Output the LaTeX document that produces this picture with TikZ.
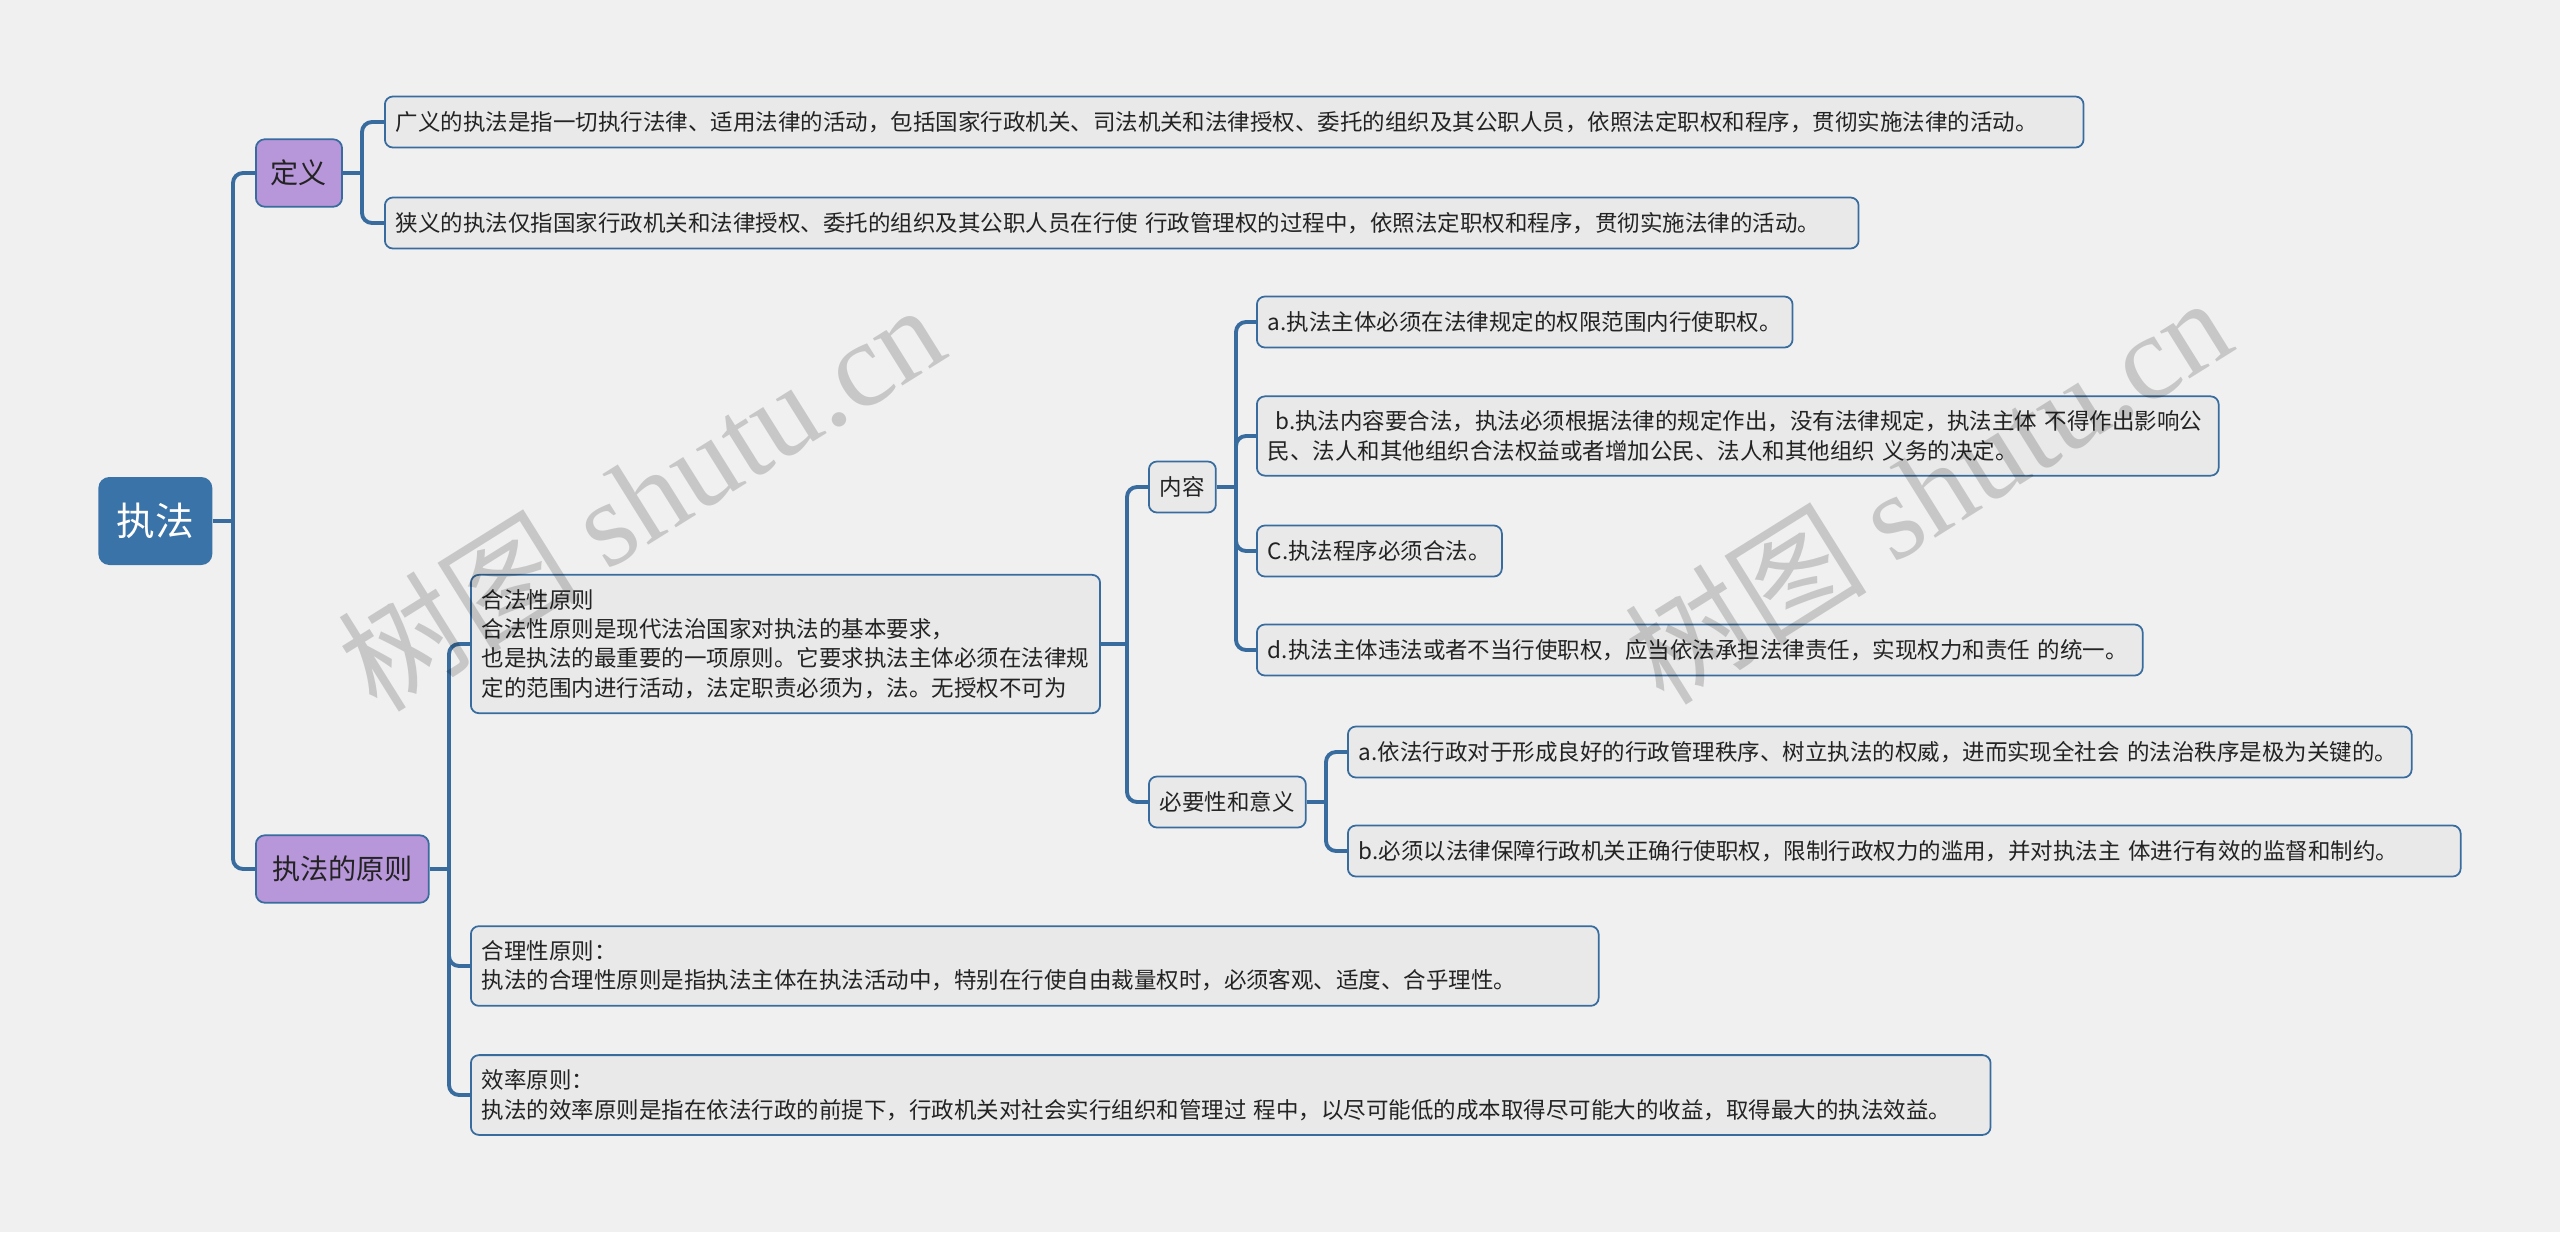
\documentclass[tikz,border=0pt]{standalone}
\usepackage{fontspec}
\setmainfont{Noto Sans CJK SC}
\newfontfamily\wmfont{Liberation Serif}
\usepackage{tikz}
\usetikzlibrary{positioning,calc}
\definecolor{linkblue}{RGB}{56,108,158}
\definecolor{rootblue}{RGB}{58,115,168}
\definecolor{topicpurple}{RGB}{184,150,218}
\definecolor{leafgray}{RGB}{233,233,233}
\definecolor{bggray}{RGB}{240,240,240}
\definecolor{textdark}{RGB}{35,35,35}

\tikzset{
  rootbox/.style={anchor=west, fill=rootblue, text=white, rounded corners=0.22cm,
    minimum width=2.28cm, minimum height=1.76cm, font=\fontsize{22}{26}\selectfont},
  topicbox/.style={anchor=west, fill=topicpurple, draw=linkblue, line width=1pt,
    rounded corners=0.18cm, minimum height=1.35cm, inner xsep=0.3cm, text=textdark,
    font=\fontsize{16}{20}\selectfont},
  leafbox/.style={anchor=west, fill=leafgray, draw=linkblue, line width=1pt,
    rounded corners=0.16cm, minimum height=1.02cm, inner xsep=0.22cm, inner ysep=0.29cm,
    align=left, text=textdark, font=\fontsize{12.8}{16.7}\selectfont},
  link/.style={draw=linkblue, line width=2.2pt, rounded corners=0.2cm},
  wmtext/.style={anchor=base, rotate=32, text=black, opacity=0.17,
    font=\fontsize{69}{72}\selectfont},
}

\begin{document}
\begin{tikzpicture}[x=0.02cm,y=-0.02cm]
  % background
  \fill[bggray] (0,0) rectangle (2560,1232);
  \useasboundingbox (0,0) rectangle (2560,1232);

  % main topics
  \node[rootbox] (zhifa) at (98,521) {执法};
  \node[topicbox, minimum width=1.72cm] (dingyi) at (255,173) {定义};
  \node[topicbox, minimum width=3.46cm] (yuanze) at (255,869) {执法的原则};

  % definitions
  \node[leafbox, text width=33.54cm] (guangyi) at (384,122) {广义的执法是指一切执行法律、适用法律的活动，包括国家行政机关、司法机关和法律授权、委托的组织及其公职人员，依照法定职权和程序，贯彻实施法律的活动。};
  \node[leafbox, text width=29.04cm] (xiayi) at (384,223) {狭义的执法仅指国家行政机关和法律授权、委托的组织及其公职人员在行使 行政管理权的过程中，依照法定职权和程序，贯彻实施法律的活动。};

  % principles
  \node[leafbox] (hefa) at (470,644) {合法性原则\\合法性原则是现代法治国家对执法的基本要求，\\也是执法的最重要的一项原则。它要求执法主体必须在法律规\\定的范围内进行活动，法定职责必须为，法。无授权不可为};
  \node[leafbox, text width=22.12cm] (heli) at (470,966) {合理性原则：\\执法的合理性原则是指执法主体在执法活动中，特别在行使自由裁量权时，必须客观、适度、合乎理性。};
  \node[leafbox, text width=29.96cm] (xiaolv) at (470,1095) {效率原则：\\执法的效率原则是指在依法行政的前提下，行政机关对社会实行组织和管理过 程中，以尽可能低的成本取得尽可能大的收益，取得最大的执法效益。};

  \node[leafbox] (neirong) at (1148,487) {内容};
  \node[leafbox] (nra) at (1256,322) {a.执法主体必须在法律规定的权限范围内行使职权。};
  \node[leafbox, text width=18.8cm] (nrb) at (1256,436) {\ b.执法内容要合法，执法必须根据法律的规定作出，没有法律规定，执法主体 不得作出影响公\\民、法人和其他组织合法权益或者增加公民、法人和其他组织 义务的决定。};
  \node[leafbox] (nrc) at (1256,551) {C.执法程序必须合法。};
  \node[leafbox, text width=17.28cm] (nrd) at (1256,650) {d.执法主体违法或者不当行使职权，应当依法承担法律责任，实现权力和责任 的统一。};

  \node[leafbox] (biyao) at (1148,802) {必要性和意义};
  \node[leafbox, text width=20.84cm] (bya) at (1347,752) {a.依法行政对于形成良好的行政管理秩序、树立执法的权威，进而实现全社会 的法治秩序是极为关键的。};
  \node[leafbox, text width=21.82cm] (byb) at (1347,851) {b.必须以法律保障行政机关正确行使职权，限制行政权力的滥用，并对执法主 体进行有效的监督和制约。};

  % connectors
  \coordinate (j0) at (233,521);
  \draw[link, rounded corners=0] (zhifa.east) -- (j0);
  \draw[link] (j0) |- (dingyi.west);
  \draw[link] (j0) |- (yuanze.west);

  \coordinate (j1) at (362,173);
  \draw[link, rounded corners=0] (dingyi.east) -- (j1);
  \draw[link] (j1) |- (guangyi.west);
  \draw[link] (j1) |- (xiayi.west);

  \coordinate (j2) at (449,869);
  \draw[link, rounded corners=0] (yuanze.east) -- (j2);
  \draw[link] (j2) |- (hefa.west);
  \draw[link] (j2) |- (heli.west);
  \draw[link] (j2) |- (xiaolv.west);

  \coordinate (j3) at (1127,644);
  \draw[link, rounded corners=0] (hefa.east) -- (j3);
  \draw[link] (j3) |- (neirong.west);
  \draw[link] (j3) |- (biyao.west);

  \coordinate (j4) at (1236,487);
  \draw[link, rounded corners=0] (neirong.east) -- (j4);
  \draw[link] (j4) |- (nra.west);
  \draw[link] (j4) |- (nrb.west);
  \draw[link] (j4) |- (nrc.west);
  \draw[link] (j4) |- (nrd.west);

  \coordinate (j5) at (1326,802);
  \draw[link, rounded corners=0] (biyao.east) -- (j5);
  \draw[link] (j5) |- (bya.west);
  \draw[link] (j5) |- (byb.west);

  % watermark
  \node[wmtext] (wm1) at (665,535) {树图 {\wmfont shutu.cn}};
  \node[wmtext] (wm2) at (1952,528) {树图 {\wmfont shutu.cn}};
\end{tikzpicture}
\end{document}
